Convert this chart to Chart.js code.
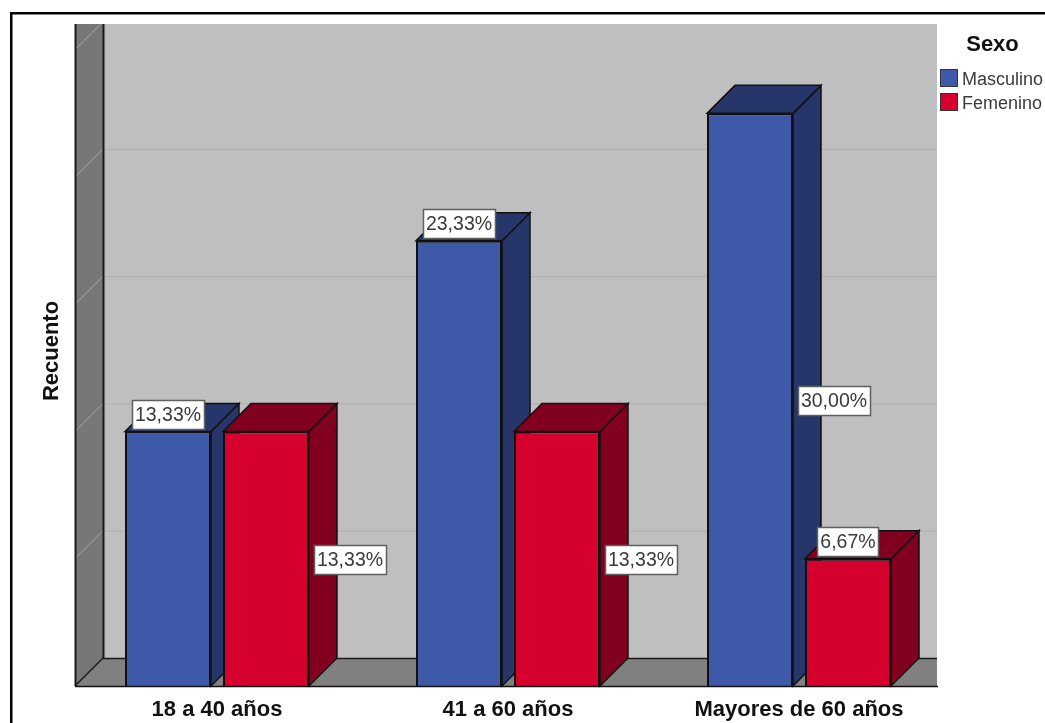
<!DOCTYPE html>
<html>
<head>
<meta charset="utf-8">
<style>
  html, body { margin: 0; background: #fff; }
  canvas { display: block; }
</style>
<script src="https://cdn.jsdelivr.net/npm/chart.js@4"></script>
</head>
<body>
<canvas id="graph" width="1045" height="723"></canvas>
<script>
const categories = ['18 a 40 años', '41 a 60 años', 'Mayores de 60 años'];
const masculino = [13.33, 23.33, 30.0];
const femenino = [13.33, 13.33, 6.67];
const gridValues = [6.67, 13.33, 20, 26.67, 33.33];
const yMax = 35.1;

const seriesNames = ['Masculino', 'Femenino'];
const frontColors = ['#3e59a8', '#d6002e'];
const sideColors = ['#26366b', '#82001f'];

const depth = 28;
const wallLeft = 75;
const wallRight = 937;
const wallTop = 24;
const valueFont = '19.5px "Liberation Sans"';
const legendFont = '18px "Liberation Sans"';
const boldFont = 'bold 22px "Liberation Sans"';

const polygon = (ctx, points, fill, stroke) => {
  ctx.beginPath();
  points.forEach((p, i) => (i ? ctx.lineTo(p[0], p[1]) : ctx.moveTo(p[0], p[1])));
  ctx.closePath();
  if (fill) {
    ctx.fillStyle = fill;
    ctx.fill();
  }
  if (stroke) {
    ctx.strokeStyle = stroke;
    ctx.lineWidth = 1.5;
    ctx.stroke();
  }
};

const line = (ctx, x1, y1, x2, y2, color, width) => {
  ctx.beginPath();
  ctx.moveTo(x1, y1);
  ctx.lineTo(x2, y2);
  ctx.strokeStyle = color;
  ctx.lineWidth = width;
  ctx.stroke();
};

// black frame, walls and floor behind the bars
const drawRoom = (chart) => {
  const ctx = chart.ctx;
  const y = chart.scales.y;
  const base = y.getPixelForValue(0);
  const backX = wallLeft + depth;

  ctx.save();
  ctx.fillStyle = '#000';
  ctx.fillRect(10, 12, 1035, 2.5);
  ctx.fillRect(10, 12, 2.5, 711);

  ctx.beginPath();
  ctx.rect(wallLeft - 1, wallTop, wallRight - wallLeft + 2, base - wallTop + 2);
  ctx.clip();

  ctx.fillStyle = '#bfbfbf';
  ctx.fillRect(backX, wallTop, wallRight - backX, base - depth - wallTop);
  polygon(ctx, [[wallLeft, wallTop], [backX, wallTop], [backX, base - depth], [wallLeft, base]], '#777777');
  polygon(ctx, [[wallLeft, base], [backX, base - depth], [wallRight, base - depth], [wallRight, base]], '#808080');

  gridValues.forEach((v) => {
    const py = y.getPixelForValue(v);
    line(ctx, backX, py - depth + 0.5, wallRight, py - depth + 0.5, '#afafaf', 1);
    line(ctx, wallLeft, py, backX, py - depth, '#a6a6a6', 1);
  });

  line(ctx, wallLeft + 0.5, wallTop, wallLeft + 0.5, base, '#1a1a1a', 2);
  line(ctx, backX + 0.5, wallTop, backX + 0.5, base - depth, '#1a1a1a', 2);
  line(ctx, wallLeft, base, backX, base - depth, '#1a1a1a', 1.5);
  line(ctx, backX, base - depth + 0.5, wallRight, base - depth + 0.5, '#1a1a1a', 1.5);
  ctx.restore();
};

// side and top faces of each bar; the fronts are the chart's own bars
const drawBarDepth = (chart) => {
  const ctx = chart.ctx;
  categories.forEach((c, i) => {
    chart.data.datasets.forEach((ds, d) => {
      const bar = chart.getDatasetMeta(d).data[i];
      const left = bar.x - bar.width / 2;
      const right = bar.x + bar.width / 2;
      polygon(ctx, [[right, bar.y], [right + depth, bar.y - depth], [right + depth, bar.base - depth], [right, bar.base]], sideColors[d], '#111');
      polygon(ctx, [[left, bar.y], [left + depth, bar.y - depth], [right + depth, bar.y - depth], [right, bar.y]], sideColors[d], '#111');
    });
  });
};

// value boxes: on top of the bar, or beside it where the next bar leaves room
const besideBar = { '0-1': true, '1-1': true, '2-0': true };

const drawValueLabels = (chart) => {
  const ctx = chart.ctx;
  ctx.save();
  ctx.font = valueFont;
  ctx.textAlign = 'center';
  ctx.textBaseline = 'middle';
  chart.data.datasets.forEach((ds, d) => {
    ds.data.forEach((v, i) => {
      const bar = chart.getDatasetMeta(d).data[i];
      const text = v.toFixed(2).replace('.', ',') + '%';
      const beside = besideBar[i + '-' + d];
      const cx = beside ? bar.x + bar.width / 2 + 41 : bar.x;
      const cy = beside ? (bar.y + bar.base) / 2 + 1 : bar.y - 17;
      const w = Math.round(ctx.measureText(text).width + 6);
      const h = 29;
      const bx = Math.round(cx - w / 2) + 0.5;
      const by = Math.round(cy - h / 2) + 0.5;
      ctx.fillStyle = '#fff';
      ctx.fillRect(bx, by, w, h);
      ctx.strokeStyle = '#5f5f5f';
      ctx.lineWidth = 1.5;
      ctx.strokeRect(bx, by, w, h);
      ctx.fillStyle = '#3a3a3a';
      ctx.fillText(text, cx, cy + 1);
    });
  });
  ctx.restore();
};

const drawLegend = (chart) => {
  const ctx = chart.ctx;
  ctx.save();
  ctx.textBaseline = 'middle';
  ctx.font = boldFont;
  ctx.textAlign = 'center';
  ctx.fillStyle = '#111';
  ctx.fillText('Sexo', 992.5, 45);
  ctx.font = legendFont;
  ctx.textAlign = 'left';
  chart.data.datasets.forEach((ds, d) => {
    const top = 69 + d * 24;
    ctx.fillStyle = ds.backgroundColor;
    ctx.fillRect(940.5, top + 0.5, 17, 17);
    ctx.strokeStyle = '#333';
    ctx.lineWidth = 1;
    ctx.strokeRect(940.5, top + 0.5, 17, 17);
    ctx.fillStyle = '#3a3a3a';
    ctx.fillText(ds.label, 962, top + 11.5);
  });
  ctx.restore();
};

const roomPlugin = {
  id: 'room',
  beforeDatasetsDraw(chart) {
    drawRoom(chart);
    drawBarDepth(chart);
  },
  afterDatasetsDraw(chart) {
    const y = chart.scales.y.getPixelForValue(0);
    line(chart.ctx, wallLeft, y + 0.5, wallRight + 1, y + 0.5, '#111', 1.5);
    drawValueLabels(chart);
    drawLegend(chart);
  },
};

new Chart(document.getElementById('graph').getContext('2d'), {
  type: 'bar',
  data: {
    labels: categories,
    datasets: [
      { label: seriesNames[0], data: masculino, backgroundColor: frontColors[0], borderColor: '#111', borderWidth: 2 },
      { label: seriesNames[1], data: femenino, backgroundColor: frontColors[1], borderColor: '#111', borderWidth: 2 },
    ],
  },
  options: {
    responsive: false,
    animation: false,
    categoryPercentage: 0.6735,
    barPercentage: 0.8776,
    layout: { padding: { top: 16, right: 100.5, left: 0, bottom: 0 } },
    plugins: {
      legend: { display: false },
      tooltip: { enabled: false },
    },
    scales: {
      x: {
        grid: { display: false },
        border: { display: false },
        afterFit: (scale) => {
          scale.height = 37;
        },
        ticks: {
          color: '#111',
          padding: 3,
          maxRotation: 0,
          font: { family: '"Liberation Sans"', size: 22, weight: 'bold' },
        },
      },
      y: {
        min: 0,
        max: yMax,
        grid: { display: false },
        border: { display: false },
        afterFit: (scale) => {
          scale.width = 71.5;
        },
        ticks: { display: false },
        title: {
          display: true,
          text: 'Recuento',
          color: '#111',
          padding: { top: 39, bottom: 0 },
          font: { family: '"Liberation Sans"', size: 22, weight: 'bold' },
        },
      },
    },
  },
  plugins: [roomPlugin],
});
</script>
</body>
</html>
